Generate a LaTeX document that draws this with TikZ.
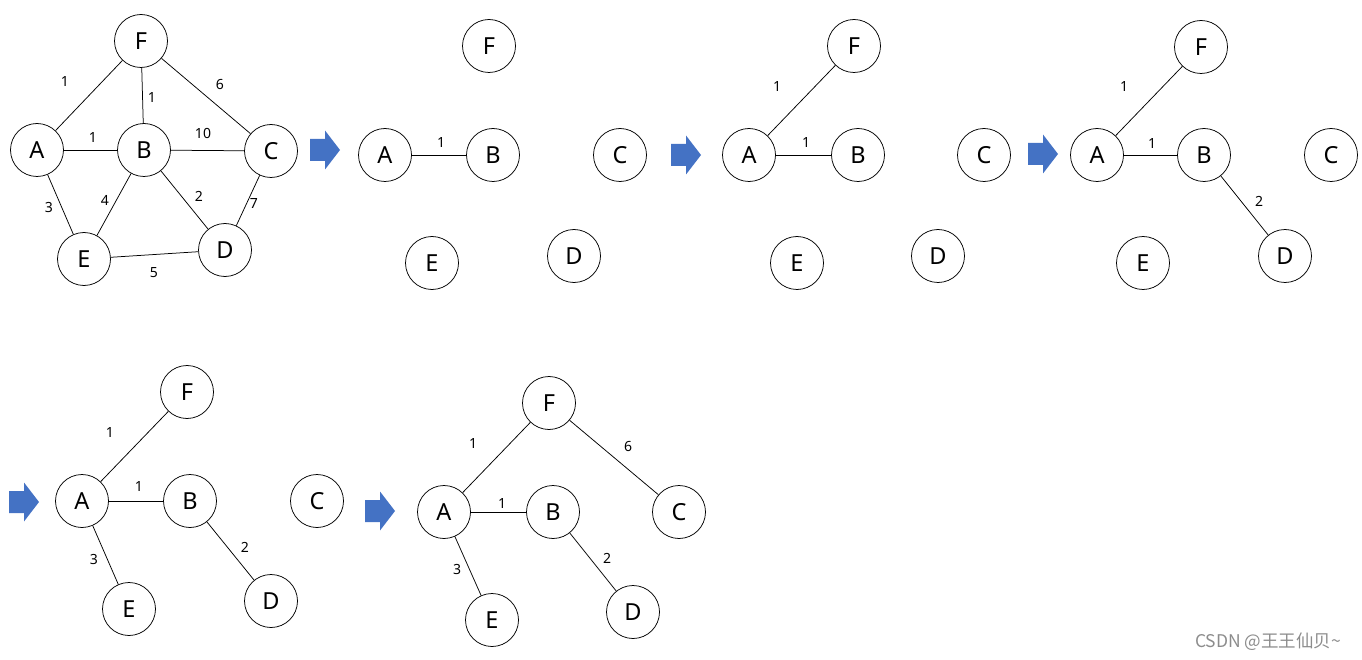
\documentclass[tikz,border=0pt]{standalone}
\usepackage{fontspec}
\setmainfont{Noto Sans}
\newfontfamily\cjk{Noto Sans CJK SC}
\usepackage{tikz}
\usetikzlibrary{positioning}
\definecolor{arrowblue}{HTML}{4472C4}

\begin{document}
\begin{tikzpicture}[x=1pt, y=-1pt,
    vtx/.style={circle, draw, line width=0.75pt, minimum size=53pt, inner sep=0pt, font=\fontsize{23.5}{25}\selectfont},
    lbl/.style={inner sep=0pt, font=\fontsize{14}{16}\selectfont},
    edge/.style={line width=0.75pt},
    blockarr/.pic={\fill[arrowblue] (0,-11) -- (15,-11) -- (15,-19.5) -- (30,0) -- (15,19.5) -- (15,11) -- (0,11) -- cycle;}
  ]
    \useasboundingbox (0,0) rectangle (1362,660);

    % Panel 1: the full graph
    \node[vtx] (F1) at (141,41) {F};
    \node[vtx] (A1) at (37,150) {A};
    \node[vtx] (B1) at (144,150) {B};
    \node[vtx] (C1) at (271,151) {C};
    \node[vtx] (E1) at (84,259) {E};
    \node[vtx] (D1) at (225,250) {D};
    \draw[edge] (A1) -- (F1);
    \draw[edge] (B1) -- (F1);
    \draw[edge] (C1) -- (F1);
    \draw[edge] (A1) -- (B1);
    \draw[edge] (B1) -- (C1);
    \draw[edge] (A1) -- (E1);
    \draw[edge] (B1) -- (E1);
    \draw[edge] (B1) -- (D1);
    \draw[edge] (C1) -- (D1);
    \draw[edge] (E1) -- (D1);
    \node[lbl] (w1) at (65,82) {1};
    \node[lbl] (w2) at (152,98) {1};
    \node[lbl] (w3) at (220,85) {6};
    \node[lbl] (w4) at (93,138) {1};
    \node[lbl] (w5) at (203,133) {10};
    \node[lbl] (w6) at (49,208) {3};
    \node[lbl] (w7) at (105,200) {4};
    \node[lbl] (w8) at (199,196) {2};
    \node[lbl] (w9) at (254,204) {7};
    \node[lbl] (w10) at (154,273) {5};

    \pic at (310,150) {blockarr};

    % Panel 2: A-B
    \node[vtx] (F2) at (489,46) {F};
    \node[vtx] (A2) at (385,155) {A};
    \node[vtx] (B2) at (493,155) {B};
    \node[vtx] (C2) at (620,155) {C};
    \node[vtx] (E2) at (432,263) {E};
    \node[vtx] (D2) at (574,256) {D};
    \draw[edge] (A2) -- (B2);
    \node[lbl] (w11) at (441,143) {1};

    \pic at (671,155) {blockarr};

    % Panel 3: A-F added
    \node[vtx] (F3) at (854,46) {F};
    \node[vtx] (A3) at (749,155) {A};
    \node[vtx] (B3) at (858,155) {B};
    \node[vtx] (C3) at (984,155) {C};
    \node[vtx] (E3) at (797,263) {E};
    \node[vtx] (D3) at (938,256) {D};
    \draw[edge] (A3) -- (B3);
    \draw[edge] (A3) -- (F3);
    \node[lbl] (w12) at (777,87) {1};
    \node[lbl] (w13) at (806,143) {1};

    \pic at (1028,154) {blockarr};

    % Panel 4: B-D added
    \node[vtx] (F4) at (1201,47) {F};
    \node[vtx] (A4) at (1097,155) {A};
    \node[vtx] (B4) at (1204,155) {B};
    \node[vtx] (C4) at (1331,155) {C};
    \node[vtx] (E4) at (1143,263) {E};
    \node[vtx] (D4) at (1285,256) {D};
    \draw[edge] (A4) -- (B4);
    \draw[edge] (A4) -- (F4);
    \draw[edge] (B4) -- (D4);
    \node[lbl] (w14) at (1124,87) {1};
    \node[lbl] (w15) at (1152,144) {1};
    \node[lbl] (w16) at (1259,201) {2};

    \pic at (9,502) {blockarr};

    % Panel 5: A-E added
    \node[vtx] (F5) at (187,392) {F};
    \node[vtx] (A5) at (82,501) {A};
    \node[vtx] (B5) at (190,501) {B};
    \node[vtx] (C5) at (317,501) {C};
    \node[vtx] (E5) at (129,609) {E};
    \node[vtx] (D5) at (271,601) {D};
    \draw[edge] (A5) -- (B5);
    \draw[edge] (A5) -- (F5);
    \draw[edge] (B5) -- (D5);
    \draw[edge] (A5) -- (E5);
    \node[lbl] (w17) at (110,433) {1};
    \node[lbl] (w18) at (139,486) {1};
    \node[lbl] (w19) at (94,559) {3};
    \node[lbl] (w20) at (245,547) {2};

    \pic at (365,511) {blockarr};

    % Panel 6: F-C added, the spanning tree
    \node[vtx] (F6) at (549,403) {F};
    \node[vtx] (A6) at (444,512) {A};
    \node[vtx] (B6) at (553,512) {B};
    \node[vtx] (C6) at (679,512) {C};
    \node[vtx] (E6) at (492,620) {E};
    \node[vtx] (D6) at (633,612) {D};
    \draw[edge] (A6) -- (B6);
    \draw[edge] (A6) -- (F6);
    \draw[edge] (F6) -- (C6);
    \draw[edge] (B6) -- (D6);
    \draw[edge] (A6) -- (E6);
    \node[lbl] (w21) at (473,444) {1};
    \node[lbl] (w22) at (502,503) {1};
    \node[lbl] (w23) at (628,446) {6};
    \node[lbl] (w24) at (457,569) {3};
    \node[lbl] (w25) at (607,558) {2};

    % watermark
    \node[text=black!45, font=\cjk\fontsize{17.5}{20}\selectfont, inner sep=0pt] (mark) at (1268,642) {CSDN @王王仙贝\textasciitilde};
\end{tikzpicture}
\end{document}
